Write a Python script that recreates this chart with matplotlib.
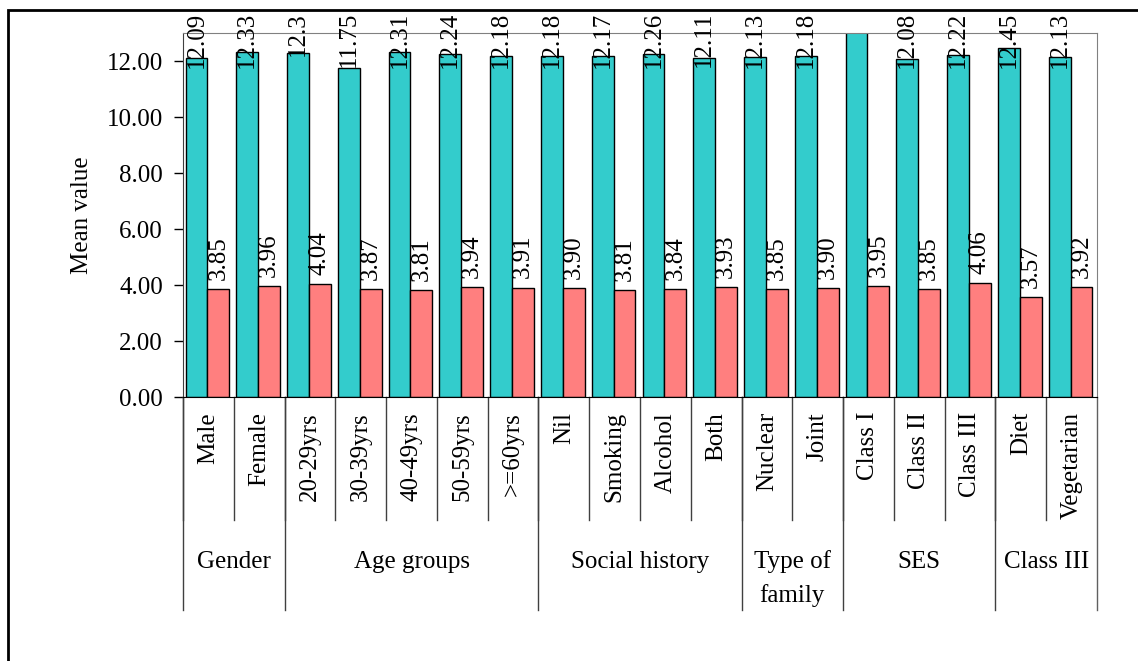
import matplotlib
matplotlib.use("Agg")
import matplotlib.pyplot as plt
from matplotlib.patches import Rectangle
import matplotlib.transforms as mtransforms

# Données
categories = ["Male", "Female", "20-29yrs", "30-39yrs", "40-49yrs", "50-59yrs",
              ">=60yrs", "Nil", "Smoking", "Alcohol", "Both", "Nuclear", "Joint",
              "Class I", "Class II", "Class III", "Diet", "Vegetarian"]
groups = ["Gender", "Age groups", "Social history", "Type of\nfamily", "SES", "Class III"]
group_sizes = [2, 5, 4, 2, 3, 2]
teal_values = [12.09, 12.33, 12.3, 11.75, 12.31, 12.24, 12.18, 12.18, 12.17, 12.26,
               12.11, 12.13, 12.18, 15.0, 12.08, 12.22, 12.45, 12.13]
pink_values = [3.85, 3.96, 4.04, 3.87, 3.81, 3.94, 3.91, 3.90, 3.81, 3.84, 3.93,
               3.85, 3.90, 3.95, 3.85, 4.06, 3.57, 3.92]
yticks = [0, 2, 4, 6, 8, 10, 12]

W, H = 1138, 661
plt.rcParams['font.family'] = ['Liberation Serif', 'DejaVu Serif']
fs = 18

fig = plt.figure(figsize=(W / 100, H / 100), dpi=100)
ax = fig.add_axes([183 / W, 1 - 397 / H, (1097 - 183) / W, (397 - 33) / H])
ah = 397 - 33  # hauteur de l'axe en pixels

n = len(categories)
xs = [i + 0.5 for i in range(n)]
bw = 0.43
teal_x = [x - bw / 2 - 0.02 for x in xs]
pink_x = [x + bw / 2 - 0.02 for x in xs]
ax.bar(teal_x, teal_values, width=bw, color='#33CCCC', edgecolor='black', linewidth=1)
ax.bar(pink_x, pink_values, width=bw, color='#FF7F7F', edgecolor='black', linewidth=1)

ax.set_xlim(0, n)
ax.set_ylim(0, 13)
ax.set_yticks(yticks)
ax.set_yticklabels([f"{v:.2f}" for v in yticks], fontsize=fs)
ax.tick_params(axis='y', direction='out', length=6.5, width=1, pad=8)
ax.set_xticks([])
ax.set_ylabel("Mean value", fontsize=fs, labelpad=10)

for s in ['top', 'right']:
    ax.spines[s].set_color('#808080')
ax.spines['left'].set_color('#404040')
ax.spines['bottom'].set_color('black')

trans = mtransforms.blended_transform_factory(ax.transData, ax.transAxes)

# étiquettes des valeurs
for x, v in zip(teal_x, teal_values):
    if v > 13:
        continue
    ax.text(x, 1 + 21 / ah, str(v), rotation=90, ha='center', va='top', fontsize=fs,
            transform=trans, clip_on=False)
for x, v in zip(pink_x, pink_values):
    ax.annotate(f"{v:.2f}", (x, v), xytext=(0, 6.5), textcoords='offset points',
                rotation=90, ha='center', va='bottom', fontsize=fs)

# étiquettes des catégories et séparateurs
for i, c in enumerate(categories):
    ax.text(i + 0.5, -15 / ah, c, rotation=90, ha='center', va='top', fontsize=fs,
            transform=trans, clip_on=False)
    ax.plot([i, i], [0, -123 / ah], transform=trans, color='#404040', lw=1, clip_on=False)

start = 0
for g, size in zip(groups, group_sizes):
    ax.plot([start, start], [0, -213 / ah], transform=trans, color='#404040', lw=1, clip_on=False)
    for k, line in enumerate(g.split("\n")):
        ax.text(start + size / 2, -(165 + 34 * k) / ah, line, ha='center', va='center',
                fontsize=fs, transform=trans, clip_on=False)
    start += size
ax.plot([n, n], [0, -213 / ah], transform=trans, color='#606060', lw=1, clip_on=False)

# cadre extérieur
fig.add_artist(Rectangle((8 / W, -0.2), 1.5, 1 - 10 / H + 0.2, transform=fig.transFigure,
                         fill=False, edgecolor='black', linewidth=2))

fig.savefig("out.png", dpi=100)
